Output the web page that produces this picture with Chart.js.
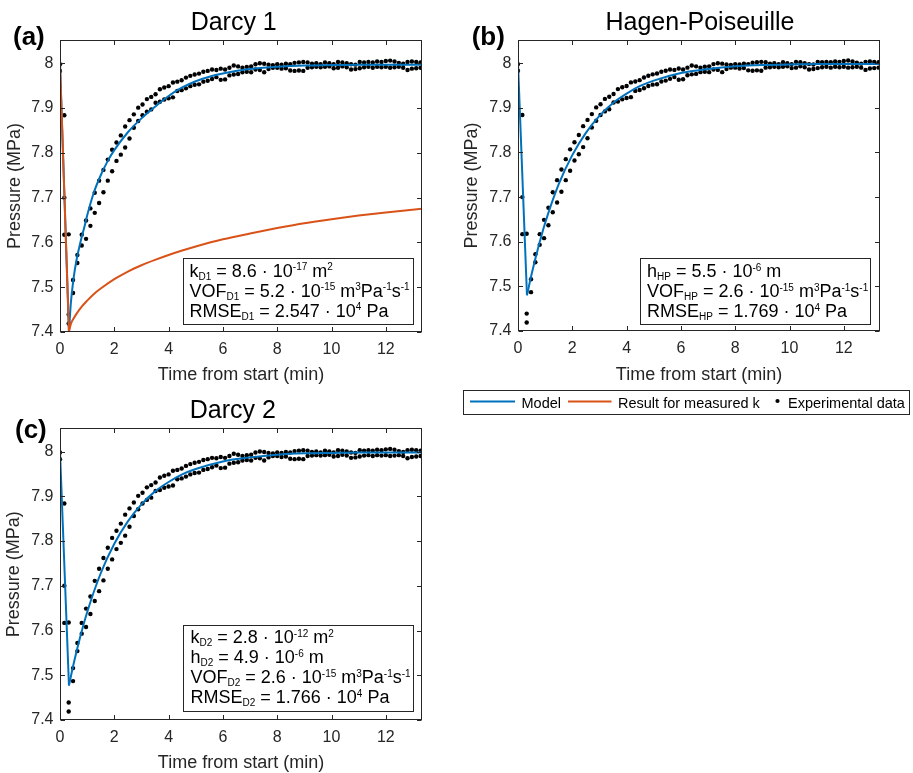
<!DOCTYPE html>
<html>
<head>
<meta charset="utf-8">
<title>Pressure recovery: Darcy and Hagen-Poiseuille models</title>
<script src="https://cdn.jsdelivr.net/npm/chart.js@4.4.1/dist/chart.umd.min.js"></script>
<style>
  html, body { margin: 0; padding: 0; background: #fff; }
  #wrap { position: relative; width: 913px; height: 773px; overflow: hidden; background: #fff; }
  #wrap canvas { position: absolute; }
</style>
</head>
<body>
<div id="wrap">
  <canvas id="panelA" width="456" height="390" style="left:0;top:0"></canvas>
  <canvas id="panelB" width="457" height="420" style="left:456px;top:0"></canvas>
  <canvas id="panelC" width="456" height="390" style="left:0;top:390px"></canvas>
</div>
<script>
// ---------- axes ----------
const xTickValues = [0, 2, 4, 6, 8, 10, 12];
const xTickLabels = ['0', '2', '4', '6', '8', '10', '12'];
const yTickValues = [7.4, 7.5, 7.6, 7.7, 7.8, 7.9, 8.0];
const yTickLabels = ['7.4', '7.5', '7.6', '7.7', '7.8', '7.9', '8'];
const xMax = 13.333;
const yMin = 7.4;
const yMax = 8.052;

// ---------- experimental data (min, MPa): two readings per sample time ----------
const expTime = [0.00, 0.16, 0.32, 0.48, 0.64, 0.80, 0.96, 1.12, 1.28, 1.44,
  1.60, 1.76, 1.92, 2.08, 2.24, 2.40, 2.56, 2.72, 2.88, 3.04,
  3.20, 3.36, 3.52, 3.68, 3.84, 4.00, 4.16, 4.32, 4.48, 4.64,
  4.80, 4.96, 5.12, 5.28, 5.44, 5.60, 5.76, 5.92, 6.08, 6.24,
  6.40, 6.56, 6.72, 6.88, 7.04, 7.20, 7.36, 7.52, 7.68, 7.84,
  8.00, 8.16, 8.32, 8.48, 8.64, 8.80, 8.96, 9.12, 9.28, 9.44,
  9.60, 9.76, 9.92, 10.08, 10.24, 10.40, 10.56, 10.72, 10.88, 11.04,
  11.20, 11.36, 11.52, 11.68, 11.84, 12.00, 12.16, 12.32, 12.48, 12.64,
  12.80, 12.96, 13.12, 13.28];
const expUpper = [7.998, 7.884, 7.618, 7.516, 7.572, 7.617, 7.649, 7.676, 7.711, 7.738,
  7.762, 7.785, 7.807, 7.823, 7.839, 7.859, 7.873, 7.886, 7.901, 7.908,
  7.920, 7.925, 7.931, 7.942, 7.946, 7.949, 7.957, 7.959, 7.962, 7.968,
  7.972, 7.975, 7.977, 7.981, 7.983, 7.986, 7.985, 7.988, 7.986, 7.990,
  7.995, 7.993, 7.990, 7.992, 7.993, 7.998, 8.000, 7.999, 7.997, 7.996,
  7.998, 7.997, 7.999, 7.998, 8.001, 8.002, 8.003, 8.002, 7.999, 8.000,
  7.998, 8.002, 8.000, 7.998, 8.003, 8.002, 8.000, 7.998, 7.997, 8.003,
  8.002, 8.003, 8.002, 8.004, 8.003, 8.005, 8.006, 8.004, 8.001, 7.999,
  8.003, 8.004, 8.003, 8.002];
const expLower = [7.983, 7.700, 7.439, 7.487, 7.554, 7.593, 7.608, 7.637, 7.666, 7.688,
  7.712, 7.738, 7.759, 7.782, 7.796, 7.812, 7.832, 7.856, 7.871, 7.884,
  7.892, 7.897, 7.912, 7.914, 7.919, 7.922, 7.924, 7.938, 7.940, 7.944,
  7.949, 7.952, 7.953, 7.959, 7.961, 7.965, 7.969, 7.963, 7.964, 7.973,
  7.975, 7.976, 7.980, 7.981, 7.980, 7.986, 7.985, 7.980, 7.987, 7.990,
  7.990, 7.988, 7.989, 7.984, 7.983, 7.984, 7.983, 7.990, 7.991, 7.992,
  7.991, 7.992, 7.993, 7.989, 7.990, 7.993, 7.991, 7.986, 7.987, 7.989,
  7.991, 7.992, 7.990, 7.992, 7.991, 7.992, 7.990, 7.991, 7.992, 7.990,
  7.985, 7.988, 7.989, 7.990];
// additional readings during the pressure drop
const expExtraTime = [0.16, 0.32];
const expExtraPressure = [7.617, 7.419];

// ---------- model curves (min, MPa) ----------
const darcy1Time = [0, 0.33, 0.4, 0.5, 0.6, 0.75, 0.9, 1.0, 1.25, 1.5, 1.75, 2, 2.5, 3, 3.5,
  4, 4.5, 5, 5.5, 6, 7, 8, 9, 10, 11, 12, 13.33];
const darcy1Model = [8.0, 7.40, 7.465, 7.52, 7.558, 7.600, 7.635, 7.66, 7.712, 7.75, 7.781, 7.806, 7.846, 7.877, 7.903,
  7.927, 7.946, 7.960, 7.970, 7.977, 7.987, 7.992, 7.995, 7.996, 7.997, 7.997, 7.997];

const measuredKTime = [0, 0.33, 0.4, 0.5, 0.6, 0.75, 1.0, 1.25, 1.5, 2, 2.5, 3, 3.5, 4, 4.5,
  5, 6, 7, 8, 9, 10, 11, 12, 13.33];
const measuredKModel = [8.0, 7.40, 7.418, 7.430, 7.440, 7.453, 7.470, 7.485, 7.497, 7.518, 7.535, 7.549, 7.561, 7.572, 7.582,
  7.591, 7.607, 7.620, 7.632, 7.643, 7.652, 7.660, 7.667, 7.675];

const hpTime = [0, 0.33, 0.5, 0.75, 1, 1.5, 2, 2.5, 3, 3.5, 4, 4.5, 5, 6, 7, 8, 9, 10, 11, 12, 13.33];
const hpModel = [8.0, 7.48, 7.527, 7.588, 7.642, 7.729, 7.794, 7.844, 7.882, 7.911, 7.932, 7.949, 7.961,
  7.978, 7.987, 7.993, 7.996, 7.997, 7.998, 7.998, 7.998];

const darcy2Time = [0, 0.33, 0.5, 0.75, 1, 1.5, 2, 2.5, 3, 3.5, 4, 4.5, 5, 6, 7, 8, 9, 10, 11, 12, 13.33];
const darcy2Model = [8.0, 7.477, 7.525, 7.587, 7.641, 7.728, 7.794, 7.844, 7.882, 7.911, 7.932, 7.949, 7.961,
  7.978, 7.987, 7.993, 7.996, 7.997, 7.998, 7.998, 7.998];

// ---------- styling ----------
const FONT = "'Liberation Sans', Arial, Helvetica, sans-serif";
const BLUE = '#0072BD';
const ORANGE = '#D95319';
const INK = '#262626';
Chart.defaults.font.family = FONT;

function toPoints(times, values) {
  return times.map((t, i) => ({ x: t, y: values[i] }));
}

// a model is drawn as a straight drop followed by a smooth recovery
function modelDatasets(times, values, color) {
  const all = toPoints(times, values);
  const base = { borderColor: color, borderWidth: 2, pointRadius: 0, fill: false, clip: 0 };
  return [
    Object.assign({ data: all.slice(0, 2), tension: 0 }, base),
    Object.assign({ data: all.slice(1), cubicInterpolationMode: 'monotone' }, base)
  ];
}

function experimentDataset() {
  const data = [];
  expTime.forEach((t, i) => {
    data.push({ x: t, y: expUpper[i] });
    data.push({ x: t, y: expLower[i] });
  });
  expExtraTime.forEach((t, i) => data.push({ x: t, y: expExtraPressure[i] }));
  return {
    data, showLine: false, pointRadius: 2.2, pointBorderWidth: 0,
    pointBackgroundColor: '#000', borderColor: '#000', clip: 0
  };
}

// text with _{sub} and ^{sup} markup
function drawRich(ctx, x, y, s, big, small) {
  const re = /([_^])\{([^}]*)\}|([^_^]+)/g;
  let m, cx = x;
  while ((m = re.exec(s)) !== null) {
    let txt, size = big, dy = 0;
    if (m[1]) { txt = m[2]; size = small; dy = m[1] === '_' ? 3 : -6.5; }
    else { txt = m[3]; }
    ctx.font = size + 'px ' + FONT;
    ctx.fillText(txt, cx, y + dy);
    cx += ctx.measureText(txt).width;
  }
}

function decorPlugin(cfg) {
  return {
    id: 'decor',
    afterDatasetsDraw(chart) {
      const { ctx, chartArea: a, scales: { x, y } } = chart;
      ctx.save();
      ctx.strokeStyle = INK;
      ctx.lineWidth = 1;
      const L = Math.round(a.left) + 0.5, R = Math.round(a.right) - 0.5;
      const T = Math.round(a.top) + 0.5, B = Math.round(a.bottom) - 0.5;
      ctx.beginPath();
      const tl = 4.5;
      xTickValues.forEach(v => {
        const px = Math.round(x.getPixelForValue(v)) + 0.5;
        ctx.moveTo(px, B); ctx.lineTo(px, B - tl);
        ctx.moveTo(px, T); ctx.lineTo(px, T + tl);
      });
      yTickValues.forEach(v => {
        const py = Math.round(y.getPixelForValue(v)) + 0.5;
        ctx.moveTo(L, py); ctx.lineTo(L + tl, py);
        ctx.moveTo(R, py); ctx.lineTo(R - tl, py);
      });
      ctx.stroke();
      ctx.strokeRect(L, T, R - L, B - T);
      ctx.restore();
    },
    afterDraw(chart) {
      const ctx = chart.ctx;
      ctx.save();
      ctx.textBaseline = 'alphabetic';
      // panel title
      ctx.fillStyle = '#000';
      ctx.textAlign = 'center';
      ctx.font = '25px ' + FONT;
      ctx.fillText(cfg.title, cfg.titleX, cfg.titleY);
      // panel tag
      ctx.textAlign = 'left';
      ctx.font = 'bold 26px ' + FONT;
      ctx.fillText(cfg.tag, cfg.tagX, cfg.tagY);
      // parameter box
      const bx = cfg.box;
      ctx.fillStyle = '#fff';
      ctx.fillRect(bx.x, bx.y, bx.w, bx.h);
      ctx.strokeStyle = INK;
      ctx.lineWidth = 1;
      ctx.strokeRect(bx.x + 0.5, bx.y + 0.5, bx.w, bx.h);
      ctx.fillStyle = '#000';
      cfg.lines.forEach((s, i) => drawRich(ctx, bx.textX, bx.firstBase + i * 20, s, 18, 10));
      // legend
      if (cfg.legend) {
        const lg = cfg.legend;
        ctx.fillStyle = '#fff';
        ctx.fillRect(lg.x, lg.y, lg.w, lg.h);
        ctx.strokeRect(lg.x + 0.5, lg.y + 0.5, lg.w, lg.h);
        const cy = lg.y + 11.5;
        ctx.lineWidth = 2;
        ctx.strokeStyle = BLUE;
        ctx.beginPath(); ctx.moveTo(lg.x + 7, cy); ctx.lineTo(lg.x + 52, cy); ctx.stroke();
        ctx.strokeStyle = ORANGE;
        ctx.beginPath(); ctx.moveTo(lg.x + 105, cy); ctx.lineTo(lg.x + 148.5, cy); ctx.stroke();
        ctx.fillStyle = '#000';
        ctx.beginPath(); ctx.arc(lg.x + 314.5, cy - 0.5, 2.1, 0, Math.PI * 2); ctx.fill();
        ctx.font = '14.5px ' + FONT;
        ctx.fillText('Model', lg.x + 58.5, lg.y + 17.5);
        ctx.fillText('Result for measured k', lg.x + 155, lg.y + 17.5);
        ctx.fillText('Experimental data', lg.x + 325, lg.y + 17.5);
      }
      ctx.restore();
    }
  };
}

function makePanel(canvasId, datasets, cfg) {
  return new Chart(document.getElementById(canvasId), {
    type: 'line',
    data: { datasets },
    options: {
      responsive: false,
      animation: false,
      events: [],
      layout: { padding: cfg.padding },
      plugins: { legend: { display: false }, tooltip: { enabled: false }, title: { display: false } },
      scales: {
        x: {
          type: 'linear', min: 0, max: xMax,
          grid: { display: false, drawTicks: false },
          border: { display: false },
          afterBuildTicks: s => { s.ticks = xTickValues.map(v => ({ value: v })); },
          afterFit: s => { s.height = cfg.xAxisHeight; },
          ticks: {
            color: INK, font: { size: 16 }, padding: 8, maxRotation: 0, autoSkip: false,
            callback: (v, i) => xTickLabels[i]
          },
          title: {
            display: true, text: 'Time from start (min)', color: INK,
            font: { size: 18, lineHeight: 1 }, padding: { top: 0, bottom: cfg.xTitlePad }
          }
        },
        y: {
          type: 'linear', min: yMin, max: yMax,
          grid: { display: false, drawTicks: false },
          border: { display: false },
          afterBuildTicks: s => { s.ticks = yTickValues.map(v => ({ value: v })); },
          afterFit: s => { s.width = cfg.yAxisWidth; },
          ticks: {
            color: INK, font: { size: 16 }, padding: 6.5, autoSkip: false,
            callback: (v, i) => yTickLabels[i]
          },
          title: {
            display: true, text: 'Pressure (MPa)', color: INK,
            font: { size: 18, lineHeight: 1 }, padding: { top: cfg.yTitlePad, bottom: 0 }
          }
        }
      }
    },
    plugins: [decorPlugin(cfg)]
  });
}

// (a) Darcy 1
makePanel('panelA',
  [...modelDatasets(measuredKTime, measuredKModel, ORANGE),
   ...modelDatasets(darcy1Time, darcy1Model, BLUE),
   experimentDataset()],
  {
    padding: { left: 0, top: 40, right: 34, bottom: 0 },
    yAxisWidth: 60, xAxisHeight: 58, xTitlePad: 6.3, yTitlePad: 6,
    title: 'Darcy 1', titleX: 233.7, titleY: 29.5,
    tag: '(a)', tagX: 13, tagY: 44.5,
    box: { x: 183, y: 258, w: 230, h: 66, textX: 189.5, firstBase: 276.7 },
    lines: ['k_{D1} = 8.6 · 10^{-17} m^{2}',
            'VOF_{D1} = 5.2 · 10^{-15} m^{3}Pa^{-1}s^{-1}',
            'RMSE_{D1} = 2.547 · 10^{4} Pa']
  });

// (b) Hagen-Poiseuille
makePanel('panelB',
  [...modelDatasets(hpTime, hpModel, BLUE), experimentDataset()],
  {
    padding: { left: 0, top: 40, right: 33, bottom: 30 },
    yAxisWidth: 62, xAxisHeight: 59, xTitlePad: 6, yTitlePad: 7.5,
    title: 'Hagen-Poiseuille', titleX: 244, titleY: 29.5,
    tag: '(b)', tagX: 15.7, tagY: 44.5,
    box: { x: 184, y: 258, w: 230, h: 66, textX: 191, firstBase: 277.3 },
    lines: ['h_{HP} = 5.5 · 10^{-6} m',
            'VOF_{HP} = 2.6 · 10^{-15} m^{3}Pa^{-1}s^{-1}',
            'RMSE_{HP} = 1.769 · 10^{4} Pa'],
    legend: { x: 7, y: 390, w: 446, h: 24 }
  });

// (c) Darcy 2
makePanel('panelC',
  [...modelDatasets(darcy2Time, darcy2Model, BLUE), experimentDataset()],
  {
    padding: { left: 0, top: 38.3, right: 34, bottom: 0 },
    yAxisWidth: 60, xAxisHeight: 60, xTitlePad: 8, yTitlePad: 5.5,
    title: 'Darcy 2', titleX: 232.8, titleY: 28,
    tag: '(c)', tagX: 15, tagY: 47.8,
    box: { x: 183, y: 235, w: 230, h: 86, textX: 190.5, firstBase: 253 },
    lines: ['k_{D2} = 2.8 · 10^{-12} m^{2}',
            'h_{D2} = 4.9 · 10^{-6} m',
            'VOF_{D2} = 2.6 · 10^{-15} m^{3}Pa^{-1}s^{-1}',
            'RMSE_{D2} = 1.766 · 10^{4} Pa']
  });
</script>
</body>
</html>
